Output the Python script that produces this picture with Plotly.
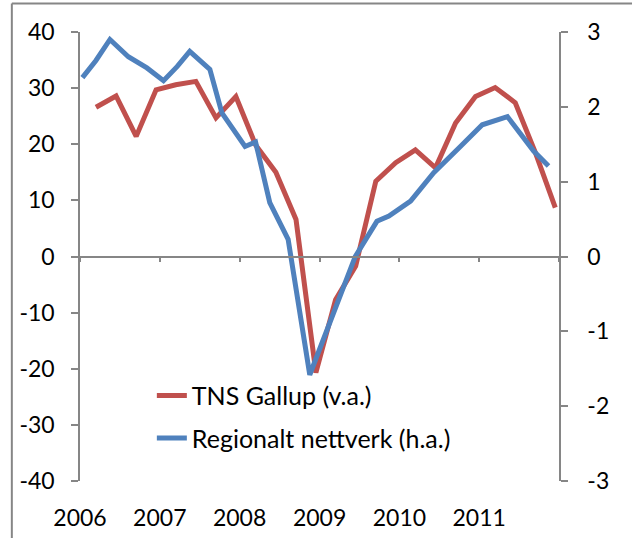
import plotly.graph_objects as go

# TNS Gallup consumer confidence (left axis), quarterly
tns_dates = [
    "2006-03-15", "2006-06-15", "2006-09-15", "2006-12-15",
    "2007-03-15", "2007-06-15", "2007-09-15", "2007-12-15",
    "2008-03-15", "2008-06-15", "2008-09-15", "2008-12-15",
    "2009-03-15", "2009-06-15", "2009-09-15", "2009-12-15",
    "2010-03-15", "2010-06-15", "2010-09-15", "2010-12-15",
    "2011-03-15", "2011-06-15", "2011-09-15", "2011-12-15",
]
tns_values = [26.6, 28.6, 21.4, 29.7, 30.6, 31.2, 24.7, 28.5,
              19.8, 15.0, 6.6, -20.7, -7.7, -1.7, 13.4, 16.7,
              19.0, 15.8, 23.8, 28.5, 30.1, 27.4, 18.5, 8.7]

# Regional network output indicator (right axis)
reg_dates = [
    "2006-01-12", "2006-03-15", "2006-05-18", "2006-08-10", "2006-11-03",
    "2007-01-18", "2007-03-22", "2007-05-18", "2007-08-18", "2007-10-12",
    "2008-01-26", "2008-03-14", "2008-05-18", "2008-08-10", "2008-11-17",
    "2009-02-28", "2009-06-13", "2009-09-20", "2009-11-14",
    "2010-02-21", "2010-06-07", "2010-10-07",
    "2011-01-15", "2011-05-10", "2011-09-07", "2011-11-14",
]
reg_values = [2.39, 2.62, 2.90, 2.67, 2.52,
              2.35, 2.54, 2.74, 2.50, 1.92,
              1.47, 1.53, 0.72, 0.23, -1.58,
              -0.81, 0.00, 0.47, 0.54,
              0.74, 1.12, 1.47,
              1.76, 1.87, 1.41, 1.21]

years = [2006, 2007, 2008, 2009, 2010, 2011]
left_ticks = [-40, -30, -20, -10, 0, 10, 20, 30, 40]
right_ticks = [-3, -2, -1, 0, 1, 2, 3]

RED = "#C0504D"
BLUE = "#4F81BD"
GREY = "#868686"
FONT = "Lato"

fig = go.Figure()
fig.add_trace(go.Scatter(
    x=tns_dates, y=tns_values, mode="lines", name="TNS Gallup (v.a.)",
    line=dict(color=RED, width=5), yaxis="y", legendgroup="a",
))
fig.add_trace(go.Scatter(
    x=reg_dates, y=reg_values, mode="lines", name="Regionalt nettverk (h.a.)",
    line=dict(color=BLUE, width=5), yaxis="y2", legendgroup="b",
))
# empty trace so the zero-crossing tick axis gets drawn
fig.add_trace(go.Scatter(x=[], y=[], xaxis="x2", showlegend=False, hoverinfo="skip"))

x_range = [f"{years[0]}-01-01", f"{years[-1] + 1}-01-01"]
ax_common = dict(showgrid=False, zeroline=False, showline=True, linecolor=GREY,
                 linewidth=1.5, ticks="outside", ticklen=7, tickcolor=GREY,
                 tickwidth=1.5, automargin=False,
                 tickfont=dict(family=FONT, size=23, color="black"))

fig.update_layout(
    width=632, height=538,
    paper_bgcolor="white", plot_bgcolor="white",
    margin=dict(l=80, r=73, t=32, b=57),
    font=dict(family=FONT, size=23, color="black"),
    showlegend=True,
    legend=dict(x=0.15, y=0.241, xanchor="left", yanchor="top",
                bgcolor="rgba(0,0,0,0)", tracegroupgap=7,
                font=dict(family=FONT, size=25, color="black")),
    xaxis=dict(type="date", range=x_range, showgrid=False, zeroline=False,
               showline=False, ticks="", automargin=False,
               tickvals=[f"{y}-01-01" for y in years],
               ticktext=[str(y) for y in years],
               ticklabelstandoff=21,
               tickfont=dict(family=FONT, size=23, color="black")),
    xaxis2=dict(type="date", range=x_range, overlaying="x", matches="x",
                anchor="free", position=0.5, showgrid=False, zeroline=False,
                showline=True, linecolor=GREY, linewidth=1.5,
                ticks="outside", ticklen=5, tickcolor=GREY, tickwidth=1.5,
                tickvals=[f"{y}-01-01" for y in years + [years[-1] + 1]],
                showticklabels=False, automargin=False),
    yaxis=dict(range=[-40, 40], tickvals=left_ticks,
               ticktext=[str(v) for v in left_ticks],
               ticklabelstandoff=12, **ax_common),
    yaxis2=dict(range=[-3, 3], tickvals=right_ticks,
                ticktext=[str(v) for v in right_ticks],
                overlaying="y", side="right",
                ticklabelstandoff=15, **ax_common),
    shapes=[
        dict(type="line", xref="paper", yref="paper", x0=-0.1423, x1=-0.1423,
             y0=-0.2, y1=1.0635, line=dict(color=GREY, width=2)),
        dict(type="line", xref="paper", yref="paper", x0=-0.1423, x1=1.3,
             y0=1.0635, y1=1.0635, line=dict(color=GREY, width=2)),
    ],
)

fig.write_html("out.html", config={"displayModeBar": False},
               post_script="document.body.style.margin='0';")
